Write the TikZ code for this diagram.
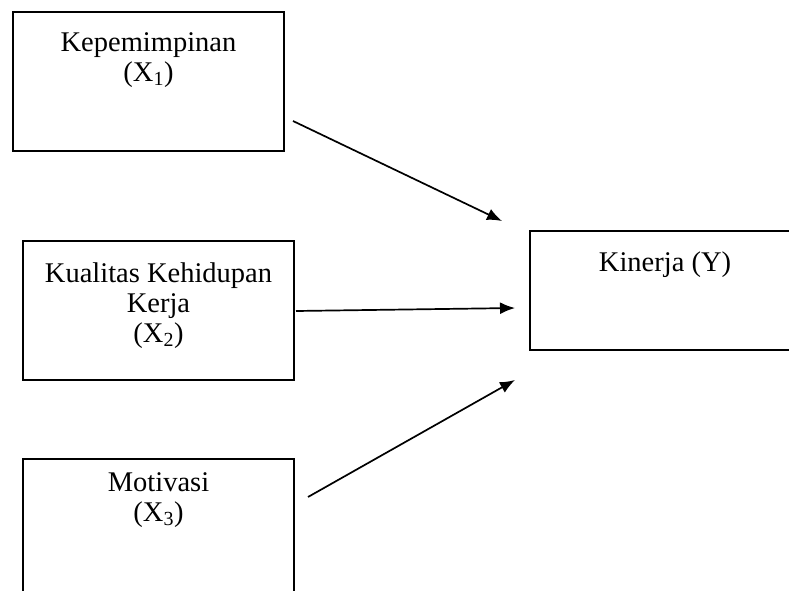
\documentclass[tikz,border=0pt]{standalone}
\usepackage{fontspec}
\setmainfont{Liberation Serif}
\usetikzlibrary{arrows.meta}
\usetikzlibrary{positioning}
\tikzset{
  varbox/.style={draw, rectangle, line width=1.8pt, inner sep=0pt},
  vartext/.style={anchor=north, align=center, inner sep=0pt,
    font=\fontsize{28.5}{30}\selectfont},
  pathArrow/.style={line width=1.7pt, -{Latex[length=15pt,width=12pt]}}
}

\begin{document}
\begin{tikzpicture}[x=1pt,y=-1pt]
  \useasboundingbox (0,0) rectangle (789,591);
  \clip (0,0) rectangle (789,591);

  % variable boxes
  \node[varbox, minimum width=271pt, minimum height=139pt] (XOne)   at (148.5,81.5) {};
  \node[varbox, minimum width=271pt, minimum height=139pt] (XTwo)   at (158.5,310.5) {};
  \node[varbox, minimum width=271pt, minimum height=150pt] (XThree) at (158.5,534) {};
  \node[varbox, minimum width=280pt, minimum height=119pt] (KinY)   at (670,290.5) {};

  \node[vartext, yshift=-21pt] (XOneText)   at (XOne.north)   {Kepemimpinan\\(X\textsubscript{1})};
  \node[vartext, yshift=-22pt] (XTwoText)   at (XTwo.north)   {Kualitas Kehidupan\\Kerja\\(X\textsubscript{2})};
  \node[vartext, yshift=-14pt] (XThreeText) at (XThree.north) {Motivasi\\(X\textsubscript{3})};
  \node[vartext, yshift=-21pt] (KinYText)   at (665,231)      {Kinerja (Y)};

  % arrow ends
  \coordinate (OneFrom)   at (293,121);
  \coordinate (OneTo)     at (502,221);
  \coordinate (TwoFrom)   at (296,311);
  \coordinate (TwoTo)     at (515,308);
  \coordinate (ThreeFrom) at (308,497);
  \coordinate (ThreeTo)   at (515,380);

  \draw[pathArrow] (OneFrom) -- (OneTo);
  \draw[pathArrow] (TwoFrom) -- (TwoTo);
  \draw[pathArrow] (ThreeFrom) -- (ThreeTo);
\end{tikzpicture}
\end{document}
